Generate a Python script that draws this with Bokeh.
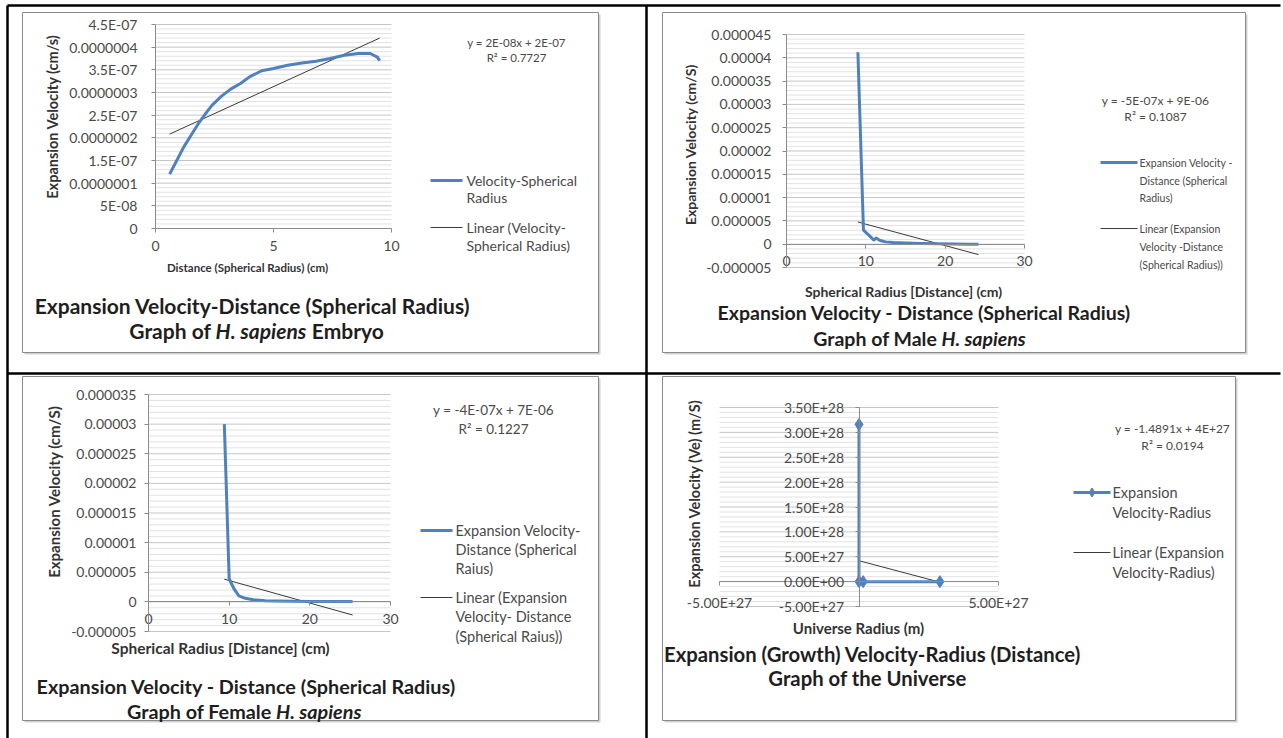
import math
from bokeh.plotting import figure
from bokeh.models import Range1d, LinearAxis, FixedTicker
from bokeh.core.properties import value
from bokeh.embed import file_html
from bokeh.resources import INLINE

# ---------------- data ----------------
# Embryo: spherical radius (cm) vs expansion velocity (cm/s)
embryo_radius = [0.6, 0.9, 1.2, 1.5, 1.8, 2.1, 2.4, 2.8, 3.2, 3.6, 4.0, 4.5,
                 5.0, 5.6, 6.2, 6.8, 7.4, 8.0, 8.6, 9.1, 9.4, 9.5]
embryo_velocity = [1.2e-7, 1.5e-7, 1.8e-7, 2.05e-7, 2.3e-7, 2.52e-7, 2.72e-7,
                   2.92e-7, 3.08e-7, 3.2e-7, 3.35e-7, 3.48e-7, 3.53e-7, 3.6e-7,
                   3.65e-7, 3.69e-7, 3.75e-7, 3.82e-7, 3.86e-7, 3.86e-7, 3.78e-7, 3.7e-7]
embryo_trend = (2.38e-8, 1.94e-7)          # slope, intercept
embryo_xticks = [0, 5, 10]
embryo_yticks = [0, 5e-08, 1e-07, 1.5e-07, 2e-07, 2.5e-07, 3e-07, 3.5e-07, 4e-07, 4.5e-07]
embryo_ylabels = ["0", "5E-08", "0.0000001", "1.5E-07", "0.0000002", "2.5E-07",
                  "0.0000003", "3.5E-07", "0.0000004", "4.5E-07"]

# Male
male_radius = [9.0, 9.7, 10.4, 11.0, 11.3, 11.8, 12.5, 13.5, 15.0, 17.0, 19.0, 21.0, 23.0, 24.2]
male_velocity = [4.12e-5, 3.0e-6, 1.9e-6, 0.9e-6, 1.3e-6, 0.8e-6, 0.5e-6, 0.35e-6,
                 0.25e-6, 0.15e-6, 0.1e-6, 0.05e-6, 0.0, 0.0]
male_trend = (-4.6e-7, 8.9e-6)
male_xticks = [0, 10, 20, 30]
male_yticks = [-5e-06, 0, 5e-06, 1e-05, 1.5e-05, 2e-05, 2.5e-05, 3e-05, 3.5e-05, 4e-05, 4.5e-05]
male_ylabels = ["-0.000005", "0", "0.000005", "0.00001", "0.000015", "0.00002",
                "0.000025", "0.00003", "0.000035", "0.00004", "0.000045"]

# Female
female_radius = [9.4, 10.0, 10.6, 11.2, 12.0, 13.0, 14.5, 16.0, 18.0, 20.0, 22.0, 25.3]
female_velocity = [3.0e-5, 3.9e-6, 2.2e-6, 1.0e-6, 0.6e-6, 0.35e-6, 0.2e-6, 0.15e-6,
                   0.1e-6, 0.08e-6, 0.06e-6, 0.05e-6]
female_trend = (-3.8e-7, 7.4e-6)
female_xticks = [0, 10, 20, 30]
female_yticks = [-5e-06, 0, 5e-06, 1e-05, 1.5e-05, 2e-05, 2.5e-05, 3e-05, 3.5e-05]
female_ylabels = ["-0.000005", "0", "0.000005", "0.00001", "0.000015", "0.00002",
                  "0.000025", "0.00003", "0.000035"]

# Universe: radius (m) vs expansion velocity (m/s)
universe_radius = [0.0, 0.0, 1.5e26, 2.9e27]
universe_velocity = [3.16e28, 0.0, 0.0, 0.0]
universe_trend = (-1.4891, 4.2e27)
universe_xticks = [-5e27, 5e27]
universe_xlabels = ["-5.00E+27", "5.00E+27"]
universe_yticks = [-5e27, 0, 5e27, 1e28, 1.5e28, 2e28, 2.5e28, 3e28, 3.5e28]
universe_ylabels = ["-5.00E+27", "0.00E+00", "5.00E+27", "1.00E+28", "1.50E+28",
                    "2.00E+28", "2.50E+28", "3.00E+28", "3.50E+28"]

# ---------------- page ----------------
W, H = 1283, 738
FONT = "Lato"
BLUE = "#4f81bd"
TREND = "#3a3a3a"
AXIS = "#8c8c8c"
GRID_MAJOR = "#c6c6c6"
GRID_MINOR = "#e2e2e2"
TICK_TEXT = "#4a4a4a"
AXT = "#333333"
TITLE = "#1e1e1e"
TICK_SIZE = "14px"

# approximate advance widths (em) of the caption pieces in Lato Bold
EM = {"Graph of": 3.82, "Graph of Male": 6.19, "Graph of Female": 7.22,
      "H. sapiens": 4.36, "Embryo": 3.45, " ": 0.22}

# one canvas in page pixels (y grows downward); each chart gets its own ranges
p = figure(width=W, height=H, x_range=Range1d(0, W), y_range=Range1d(H, 0),
           x_axis_location=None, y_axis_location=None, toolbar_location=None,
           output_backend="svg", min_border=0, title=None)
p.outline_line_color = None
p.background_fill_color = "white"
p.border_fill_color = "white"
p.grid.visible = False


def x_range_for(d0, d1, p0, p1):
    s = (d1 - d0) / (p1 - p0)
    return Range1d(d0 - p0 * s, d0 + (W - p0) * s)


def y_range_for(d0, d1, pb, pt):
    s = (d1 - d0) / (pb - pt)
    return Range1d(d0 - (H - pb) * s, d0 + pb * s)


def put(x, y, s, size, style="normal", align="left", color=TICK_TEXT, angle=0.0):
    p.text(x=[x], y=[y], text=[s], text_font=value(FONT), text_font_size=f"{size}px",
           text_font_style=style, text_align=align, text_baseline="middle",
           text_color=color, angle=angle)


# table rules
rules = [(7, 5, 1280, 5), (7, 373, 1280, 373), (7, 5, 7, 738), (646, 5, 646, 738)]
p.segment(x0=[r[0] for r in rules], y0=[r[1] for r in rules],
          x1=[r[2] for r in rules], y1=[r[3] for r in rules],
          line_color="black", line_width=2.5)

# chart frames with a soft drop shadow
boxes = [(22, 598, 12, 352), (662, 1245, 12, 352), (22, 598, 376, 720), (662, 1235, 376, 720)]
for l, r, t, b in boxes:
    p.quad(left=[l + 2], right=[r + 2], top=[t + 2], bottom=[b + 2],
           fill_color="#d0d0d0", line_color=None)
    p.quad(left=[l], right=[r], top=[t], bottom=[b], fill_color="white",
           line_color="#8a8a8a", line_width=1)


def chart(key, xs, ys, trend, xlim, ylim, xpix, ypix, xticks, xlabels, yticks, ylabels,
          ystand, xstand, markers=False):
    kx, ky = key + "_x", key + "_y"
    p.extra_x_ranges[kx] = x_range_for(xlim[0], xlim[1], *xpix)
    p.extra_y_ranges[ky] = y_range_for(ylim[0], ylim[1], *ypix)
    rn = dict(x_range_name=kx, y_range_name=ky)

    minors = [a + (b - a) * k / 5 for a, b in zip(yticks[:-1], yticks[1:]) for k in range(1, 5)]
    p.segment(x0=[xlim[0]] * len(minors), x1=[xlim[1]] * len(minors), y0=minors, y1=minors,
              line_color=GRID_MINOR, line_width=1, **rn)
    p.segment(x0=[xlim[0]] * len(yticks), x1=[xlim[1]] * len(yticks), y0=yticks, y1=yticks,
              line_color=GRID_MAJOR, line_width=1, **rn)

    m, b = trend
    x0, x1 = min(xs), max(xs)
    p.line(x=[x0, x1], y=[m * x0 + b, m * x1 + b], line_color=TREND, line_width=1, **rn)
    p.line(x=xs, y=ys, line_color=BLUE, line_width=3, line_join="round", **rn)
    if markers:
        p.scatter(x=xs, y=ys, marker="diamond", size=12, color=BLUE, **rn)

    common = dict(axis_line_color=AXIS, major_tick_line_color=AXIS, major_tick_out=4,
                  major_tick_in=0, minor_tick_line_color=None,
                  major_label_text_font=FONT, major_label_text_font_size=TICK_SIZE,
                  major_label_text_color=TICK_TEXT)
    yax = LinearAxis(x_range_name=kx, y_range_name=ky, fixed_location=0,
                     bounds=(ylim[0], ylim[1]), ticker=FixedTicker(ticks=yticks),
                     major_label_overrides=dict(zip(yticks, ylabels)),
                     major_label_standoff=ystand, **common)
    p.add_layout(yax, "left")
    xax = LinearAxis(x_range_name=kx, y_range_name=ky, fixed_location=0,
                     bounds=(xlim[0], xlim[1]), ticker=FixedTicker(ticks=xticks),
                     major_label_overrides=dict(zip(xticks, xlabels)),
                     major_label_standoff=xstand, **common)
    p.add_layout(xax, "below")


def legend(x0, x1, tx, rows_a, rows_b, texts_a, texts_b, size, marker=False):
    p.segment(x0=[x0], x1=[x1], y0=[rows_a[0]], y1=[rows_a[0]], line_color=BLUE, line_width=3)
    if marker:
        p.scatter(x=[(x0 + x1) / 2], y=[rows_a[0]], marker="diamond", size=9, color=BLUE)
    p.segment(x0=[x0], x1=[x1], y0=[rows_b[0]], y1=[rows_b[0]], line_color=TREND, line_width=1)
    for y, s in zip(rows_a, texts_a):
        put(tx, y, s, size)
    for y, s in zip(rows_b, texts_b):
        put(tx, y, s, size)


def caption(line1, cx1, cx2, y1, y2, head, tail, size):
    """Two-line bold caption; the species name in the second line is italic."""
    put(cx1, y1, line1, size, "bold", "center", TITLE)
    sp = EM[" "] * size
    total = EM[head] * size + sp + EM["H. sapiens"] * size + (sp + EM[tail] * size if tail else 0)
    left = cx2 - total / 2
    it_left = left + EM[head] * size + sp
    put(it_left - sp, y2, head, size, "bold", "right", TITLE)
    put(it_left, y2, "H. sapiens", size, "bold italic", "left", TITLE)
    if tail:
        put(it_left + EM["H. sapiens"] * size + sp, y2, tail, size, "bold", "left", TITLE)


# --- Embryo ---
chart("emb", embryo_radius, embryo_velocity, embryo_trend, (0, 10), (0, 4.5e-7),
      (155, 391), (228, 24), embryo_xticks, [str(t) for t in embryo_xticks],
      embryo_yticks, embryo_ylabels, ystand=14, xstand=8)
put(52, 116, "Expansion Velocity (cm/s)", 14.5, "bold", "center", AXT, math.pi / 2)
put(247, 267, "Distance (Spherical Radius) (cm)", 11.5, "bold", "center", AXT)
put(516, 42, "y = 2E-08x + 2E-07", 11.5, align="center")
put(516, 57, "R\u00b2 = 0.7727", 11.5, align="center")
legend(430, 462, 466, [180, 197], [227, 245],
       ["Velocity-Spherical", "Radius"], ["Linear (Velocity-", "Spherical Radius)"], 14)
caption("Expansion Velocity-Distance (Spherical Radius)", 252, 257, 305, 330,
        "Graph of", "Embryo", 21)

# --- Male ---
chart("male", male_radius, male_velocity, male_trend, (0, 30), (-5e-6, 4.5e-5),
      (786, 1024), (267, 34), male_xticks, [str(t) for t in male_xticks],
      male_yticks, male_ylabels, ystand=11, xstand=8)
put(690, 144, "Expansion Velocity (cm/S)", 14, "bold", "center", AXT, math.pi / 2)
put(903, 291, "Spherical Radius [Distance] (cm)", 14, "bold", "center", AXT)
put(1155, 100, "y = -5E-07x + 9E-06", 12, align="center")
put(1155, 116, "R\u00b2 = 0.1087", 12, align="center")
legend(1100, 1137, 1139, [162, 180, 197], [228, 246, 264],
       ["Expansion Velocity -", "Distance (Spherical", "Radius)"],
       ["Linear (Expansion", "Velocity -Distance", "(Spherical Radius))"], 10.5)
caption("Expansion Velocity - Distance (Spherical Radius)", 924, 921, 312, 338,
        "Graph of Male", None, 19.5)

# --- Female ---
chart("fem", female_radius, female_velocity, female_trend, (0, 30), (-5e-6, 3.5e-5),
      (148, 390), (631, 394), female_xticks, [str(t) for t in female_xticks],
      female_yticks, female_ylabels, ystand=8, xstand=8)
put(53, 491, "Expansion Velocity (cm/S)", 15, "bold", "center", AXT, math.pi / 2)
put(220, 647, "Spherical Radius [Distance] (cm)", 15.5, "bold", "center", AXT)
put(493, 409, "y = -4E-07x + 7E-06", 13.5, align="center")
put(493, 428, "R\u00b2 = 0.1227", 13.5, align="center")
legend(420, 452, 455, [530, 549, 568], [597, 616, 636],
       ["Expansion Velocity-", "Distance (Spherical", "Raius)"],
       ["Linear (Expansion", "Velocity-  Distance", "(Spherical Raius))"], 14.5)
caption("Expansion Velocity - Distance (Spherical Radius)", 246, 245, 685, 710,
        "Graph of Female", None, 19.8)

# --- Universe ---
chart("uni", universe_radius, universe_velocity, universe_trend, (-5e27, 5e27), (-5e27, 3.5e28),
      (719, 998), (606, 407), universe_xticks, universe_xlabels,
      universe_yticks, universe_ylabels, ystand=11, xstand=8, markers=True)
put(694, 493, "Expansion Velocity (Ve) (m/S)", 14.5, "bold", "center", AXT, math.pi / 2)
put(858, 627, "Universe Radius (m)", 15, "bold", "center", AXT)
put(1172, 428, "y = -1.4891x + 4E+27", 12, align="center")
put(1172, 445, "R\u00b2 = 0.0194", 12, align="center")
legend(1073, 1110, 1112, [492, 512], [552, 572],
       ["Expansion", "Velocity-Radius"], ["Linear (Expansion", "Velocity-Radius)"], 14.5,
       marker=True)
put(872, 653, "Expansion (Growth) Velocity-Radius (Distance)", 20.3, "bold", "center", TITLE)
put(867, 677, "Graph of the Universe", 20.3, "bold", "center", TITLE)

open("out.html", "w").write(file_html(p, INLINE))
